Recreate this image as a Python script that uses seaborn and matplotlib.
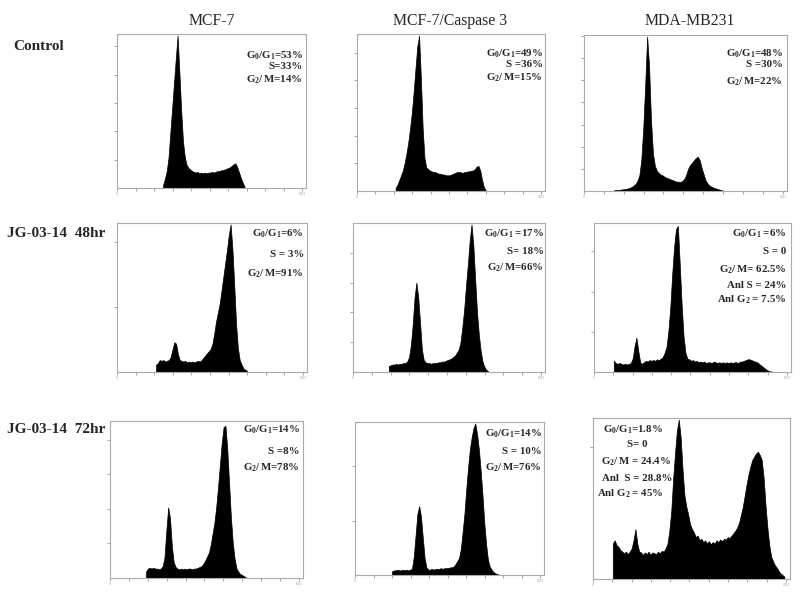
import numpy as np
import pandas as pd
import matplotlib
matplotlib.use("Agg")
import matplotlib.pyplot as plt
import seaborn as sns

sns.set_theme(style="white")
plt.rcParams['font.family'] = ['Liberation Serif', 'DejaVu Serif']
plt.rcParams['mathtext.fontset'] = 'custom'
plt.rcParams['mathtext.rm'] = 'Liberation Serif'
plt.rcParams['mathtext.bf'] = 'Liberation Serif:bold'

# column / row labels
cell_lines = ['MCF-7', 'MCF-7/Caspase 3', 'MDA-MB231']
treatments = ['Control', 'JG-03-14  48hr', 'JG-03-14  72hr']

# DNA content histograms: 10-channel bins, heights in % of panel height
bin_width = 10
mcf7_ctrl_start = 250
mcf7_ctrl = [2, 6, 11, 20, 36, 52, 68, 84, 99, 75, 50, 30, 20, 15, 13, 12, 11, 10.5, 10, 10.5,
             9.5, 10, 9.5, 10, 9.5, 10, 10, 10.5, 10, 10.5, 11, 11, 11.5, 11.5, 12, 12.5, 13, 13.5,
             14.5, 15.5, 16, 13.5, 10, 6.5, 3.5, 1]
casp_ctrl_start = 210
casp_ctrl = [2, 4, 7, 10, 13, 18, 24, 31, 40, 50, 63, 78, 92, 99, 72, 40, 21, 15, 14, 13,
             12.5, 12, 12, 11.5, 11, 11, 10.5, 10.5, 10, 10, 10, 10.5, 11, 11.5, 12, 12, 12, 11.5,
             12, 12, 12.5, 12.5, 13, 13, 14, 15.5, 16, 13, 7, 2.5, 0.5]
mda_ctrl_start = 150
mda_ctrl = [0.5, 0.6, 0.7, 0.8, 1, 1.1, 1.3, 1.6, 2, 2.6, 3.4, 4.5, 6.5, 10, 20, 40, 68, 99, 80, 45,
            24, 16, 13, 11.5, 10.5, 10, 9, 8.5, 8, 7.5, 7, 6.5, 6, 6, 5.8, 6.3, 7.5, 10, 14, 16.5,
            18, 19.5, 21, 22, 20, 15, 11, 7, 5, 3.5, 2.8, 2.2, 1.8, 1.4, 1, 0.6, 0.3]
mcf7_48_start = 210
mcf7_48 = [5, 6, 8, 7.5, 8, 7, 7.5, 8, 10, 15, 20, 19, 12, 8, 7.5, 7, 7.5, 6.5, 7, 6.5,
           7, 6.5, 7, 7.5, 7, 8, 9.5, 11, 12.5, 14, 15.5, 19, 26, 34, 40, 46, 55, 64, 73, 82,
           92, 99, 82, 58, 32, 16, 8, 5, 2.5, 1.5, 0.8]
casp_48_start = 190
casp_48 = [4, 4.5, 5, 5, 5.5, 5, 5.5, 5.5, 6, 6, 7, 10, 18, 32, 50, 60, 50, 33, 15, 8,
           6.5, 6, 6, 5.5, 6, 6, 6, 6.5, 6.5, 7, 7, 7.5, 8, 8.5, 9, 10, 11, 13, 15, 20,
           30, 42, 58, 72, 88, 99, 85, 62, 40, 25, 14, 7, 3.5, 1.5, 0.5]
mda_48_start = 100
mda_48 = [7.5, 6, 5.5, 6, 5.5, 5, 5.5, 5, 5.5, 6, 9, 17, 23, 14, 6.5, 5.5, 6.5, 7.5, 7, 8,
          7.5, 8, 7.5, 8.5, 8, 9, 10, 13, 17, 28, 44, 66, 84, 96, 98, 72, 45, 24, 13, 9,
          8.5, 7.5, 8, 7, 7.5, 6.5, 7, 6.5, 7, 6, 6.5, 6.5, 6, 7, 6.5, 6, 6.5, 6, 6.5, 6,
          6.5, 6, 6.5, 6, 6.5, 6.5, 6, 7, 7, 7.5, 8, 8.5, 8.5, 8, 7.5, 7, 6.5, 5.5, 4.5, 3.5,
          2.5, 1.5, 0.8, 0.4, 0.3]
mcf7_72_start = 190
mcf7_72 = [4, 6, 6.5, 6, 6.5, 6, 6, 5.5, 6, 7.5, 13, 30, 45, 38, 20, 10, 7, 6, 5.5, 6,
           5.5, 6, 5.5, 6, 6, 5.5, 6, 6, 6.5, 7, 7.5, 9, 11, 13.5, 16, 21, 28, 35, 45, 58,
           72, 86, 96, 97, 82, 60, 38, 22, 12, 6, 4, 2.5, 2, 1.2, 0.5]
casp_72_start = 200
casp_72 = [2.5, 3, 3, 3.5, 3, 3, 3.5, 3, 3.5, 3, 3.5, 4, 12, 26, 40, 45, 38, 24, 11, 5,
           3.5, 3.5, 4, 3.5, 4, 4, 4, 4.5, 4, 4.5, 4.5, 4.5, 5, 5, 5.5, 7, 9, 11, 17, 28,
           40, 56, 70, 82, 90, 96, 99, 92, 82, 68, 52, 34, 20, 10, 5.5, 3.5, 2, 1.2, 0.6, 0.3]
mda_72_start = 100
mda_72 = [22, 24, 21, 20, 18, 17, 16, 17, 15.5, 17, 19, 24, 31, 22, 17, 16.5, 15, 16.5, 15.5, 17,
          15, 16.5, 16, 15.5, 17, 16, 17.5, 17, 19, 22, 30, 42, 62, 78, 92, 99, 88, 68, 52, 45,
          40, 34, 31, 29, 26, 27, 24, 25, 23, 24, 22, 23.5, 21.5, 23, 22, 24, 23, 24.5, 23.5, 25,
          24.5, 26, 25.5, 27, 28.5, 30, 32, 35, 40, 45, 52, 59, 65, 70, 74, 76, 78, 79, 77, 74,
          63, 46, 32, 21, 14, 11, 8.5, 7, 5, 3.5, 2.5, 1.5]

hists = [(mcf7_ctrl_start, mcf7_ctrl), (casp_ctrl_start, casp_ctrl), (mda_ctrl_start, mda_ctrl),
         (mcf7_48_start, mcf7_48), (casp_48_start, casp_48), (mda_48_start, mda_48),
         (mcf7_72_start, mcf7_72), (casp_72_start, casp_72), (mda_72_start, mda_72)]

# cell-cycle percentages printed in each panel
stats = [
    [r'$\mathbf{G_0/G_1}$=53%', 'S=33%', r'$\mathbf{G_2/\,M}$=14%'],
    [r'$\mathbf{G_0/G_1}$=49%', 'S =36%', r'$\mathbf{G_2/\,M}$=15%'],
    [r'$\mathbf{G_0/G_1}$=48%', 'S =30%', r'$\mathbf{G_2/\,M}$=22%'],
    [r'$\mathbf{G_0/G_1}$=6%', 'S = 3%', r'$\mathbf{G_2/\,M}$=91%'],
    [r'$\mathbf{G_0/G_1}$ =17%', 'S= 18%', r'$\mathbf{G_2/\,M}$=66%'],
    [r'$\mathbf{G_0/G_1}$ =6%', 'S = 0', r'$\mathbf{G_2/\,M}$= 62.5%', 'Anl S = 24%', r'Anl $\mathbf{G_2}$ = 7.5%'],
    [r'$\mathbf{G_0/G_1}$=14%', 'S =8%', r'$\mathbf{G_2/\,M}$=78%'],
    [r'$\mathbf{G_0/G_1}$=14%', 'S = 10%', r'$\mathbf{G_2/\,M}$=76%'],
    [r'$\mathbf{G_0/G_1}$=1.8%', 'S= 0', r'$\mathbf{G_2/\,M}$ = 24.4%', 'Anl  S = 28.8%', r'Anl $\mathbf{G_2}$ = 45%'],
]

# layout (pixels on an 800x592 canvas): left, top, right, bottom
boxes = [(117, 34, 306, 188), (357, 34, 545, 191), (584, 35, 787, 191),
         (117, 223, 307, 372), (353, 223, 545, 372), (594, 223, 791, 372),
         (110, 421, 303, 578), (355, 422, 544, 575), (593, 418, 790, 579)]
ytick_step = [18.4, 17.6, 14.2, 43.5, 20, 27, 22, 35.6, 82]
# right edge of the stats text (px) and baselines of each line (px)
text_right = [303, 543, 783, 304, 544, 786, 300, 542, None]
text_base = [[58, 69, 82], [57, 67, 80], [57, 67, 84],
             [237, 257, 276], [237, 254, 271], [237, 254, 272, 288, 302],
             [433, 454, 471], [436, 454, 471], [432, 447, 464, 481, 497]]
last_cx = [633, 637, 636, 637, 630]

W, H = 800, 592
fig = plt.figure(figsize=(8, 5.92), dpi=100)
fig.patch.set_facecolor('white')

for i, (start, heights) in enumerate(hists):
    l, t, r, b = boxes[i]
    ax = fig.add_axes([l / W, 1 - b / H, (r - l) / W, (b - t) / H])
    n = len(heights)
    edges = [start + bin_width * k for k in range(n + 1)]
    df = pd.DataFrame({'channel': [e + bin_width / 2 for e in edges[:-1]], 'count': heights})
    sns.histplot(data=df, x='channel', weights='count', bins=edges, element='poly', fill=True,
                 color='black', alpha=1, linewidth=0.5, ax=ax)
    ax.set_xlim(0, 1045)
    ax.set_ylim(0, 100)
    ax.set_xlabel('')
    ax.set_ylabel('')
    xt = np.linspace(0, 1023, 11)
    ax.set_xticks(xt)
    ax.set_xticklabels(['0'] + [''] * 9 + ['1023'], fontsize=2.5, color='#999999')
    yt = np.arange(ytick_step[i], 100, ytick_step[i])
    ax.set_yticks(yt)
    ax.set_yticklabels([''] * len(yt))
    ax.tick_params(axis='both', direction='out', length=2.5, width=0.6, color='#999999',
                   pad=0.5, bottom=True, left=True)
    for sp in ax.spines.values():
        sp.set_color('#aaaaaa')
        sp.set_linewidth(0.8)

    for j, s in enumerate(stats[i]):
        y = 1 - text_base[i][j] / H
        if text_right[i] is None:
            fig.text(last_cx[j] / W, y, s, ha='center', va='baseline',
                     fontsize=7.8, fontweight='bold')
        else:
            fig.text(text_right[i] / W, y, s, ha='right', va='baseline',
                     fontsize=7.8, fontweight='bold')

# column titles
for x, name in zip([212, 450, 690], cell_lines):
    fig.text(x / W, 1 - 25 / H, name, ha='center', va='baseline', fontsize=11.3)

# row labels
for x, y, name in zip([13, 7, 7], [50, 237, 433], treatments):
    fig.text(x / W, 1 - y / H, name, ha='left', va='baseline', fontsize=11, fontweight='bold')

fig.savefig('out.png', dpi=100, facecolor='white')
